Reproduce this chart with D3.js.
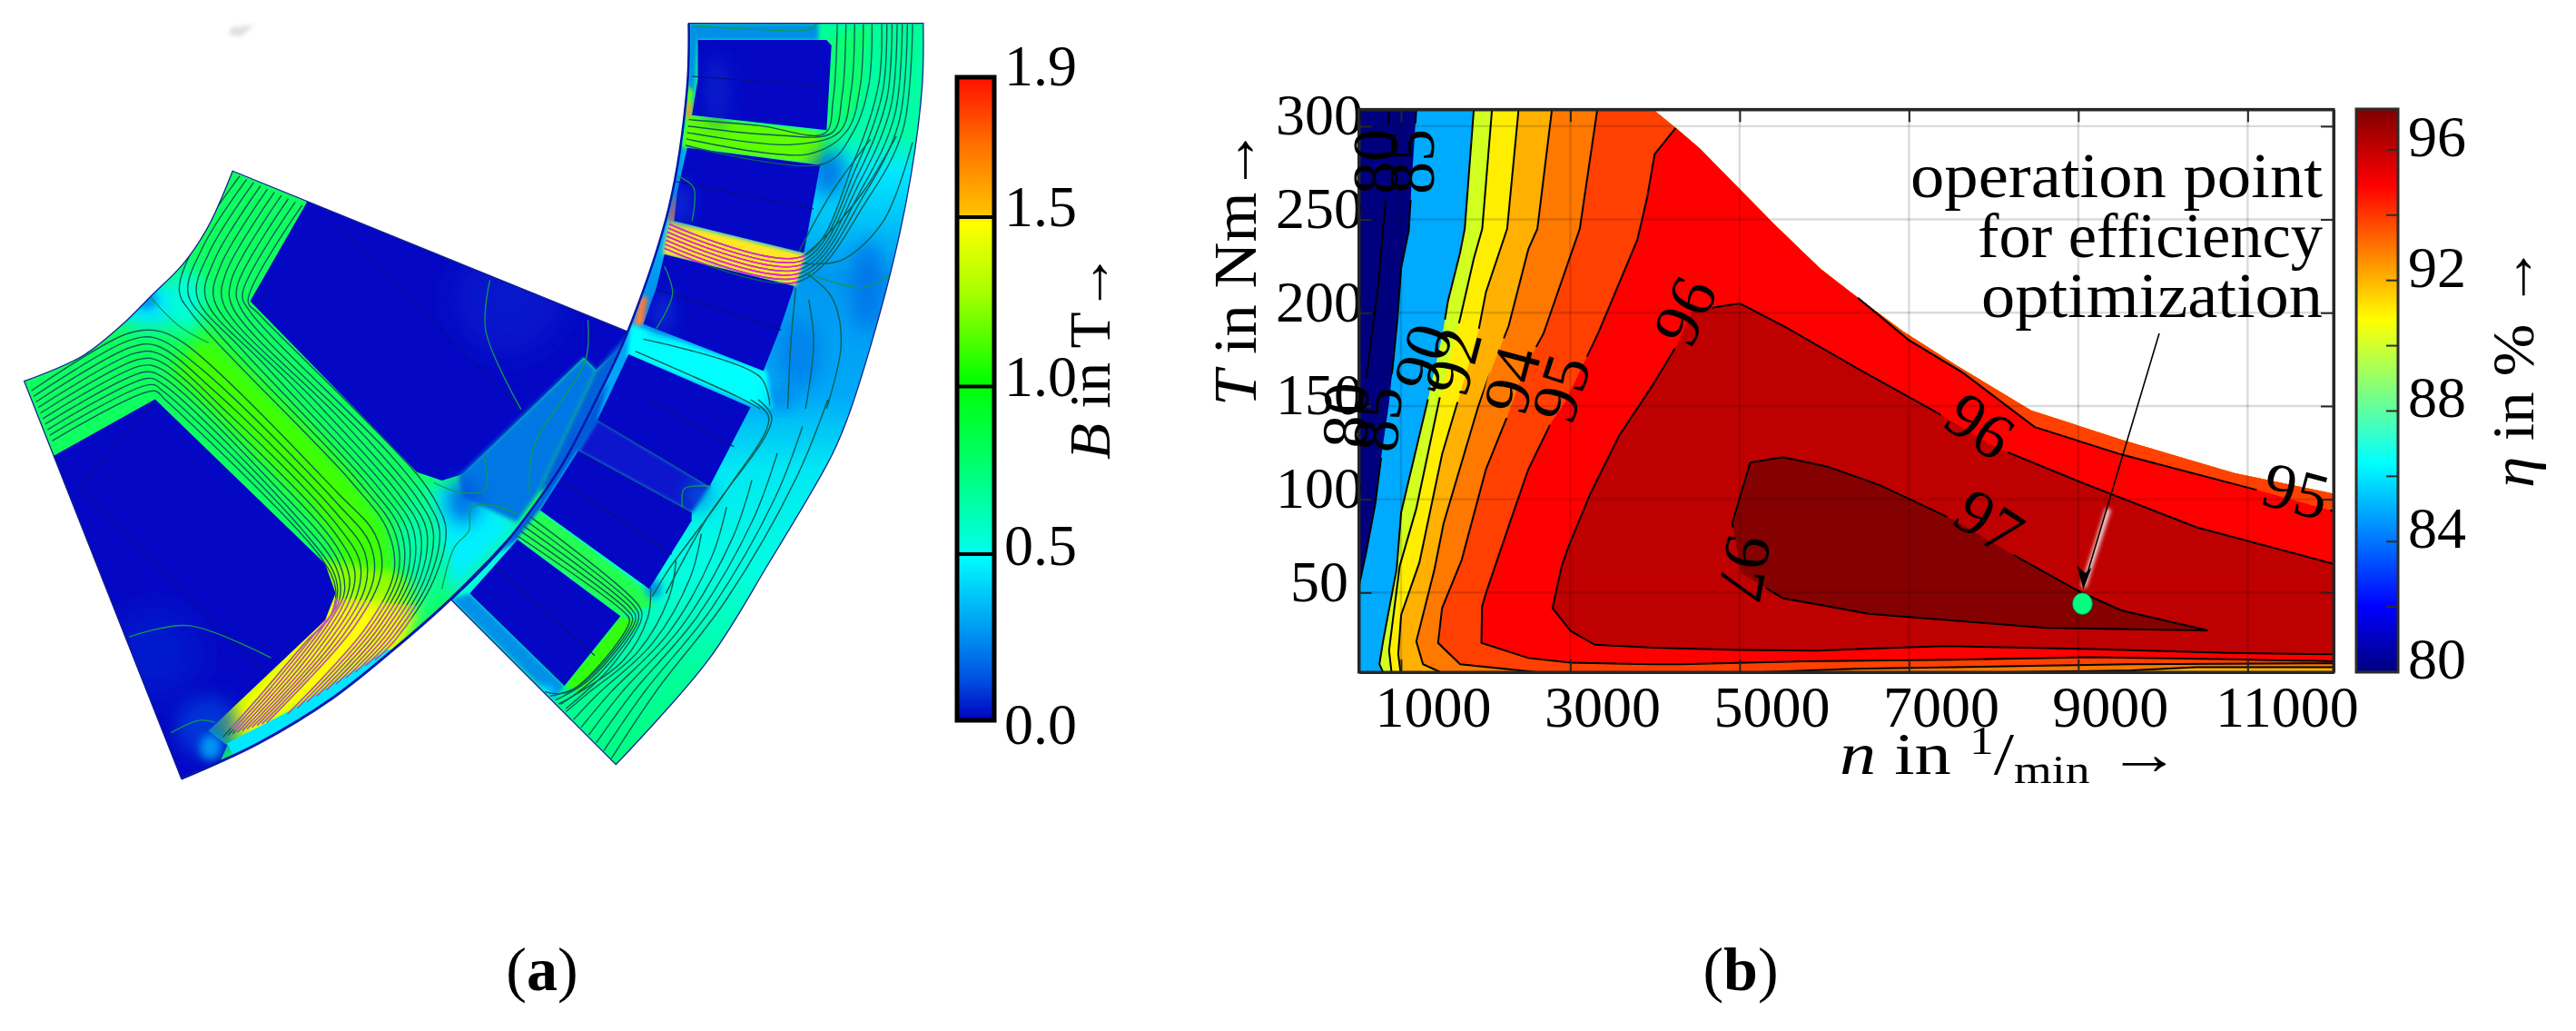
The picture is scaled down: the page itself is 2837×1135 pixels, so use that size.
<!DOCTYPE html>
<html><head><meta charset="utf-8">
<style>html,body{margin:0;padding:0;background:#fff}svg{display:block}
text{font-family:"Liberation Serif","DejaVu Serif",serif;fill:#000}</style>
<script src="https://cdn.jsdelivr.net/npm/d3@7"></script></head><body>
<script>
// ---------- panel (b) data: n in 1/min, T in Nm ----------
const xTicks=[1000,3000,5000,7000,9000,11000];
const yTicks=[50,100,150,200,250,300];
const etaTicks=[82,84,86,88,90,92,94,96];
const etaLabels=[80,84,88,92,96];
const domainEdge=[[3978,309],[4263,298.4],[4529,288],[4885,271.6],[5418,247],[5952,223.6],[6396,208],[6930,190],[7552,172],[8441,147.6],[9508,132],[10841,114],[12015,103]];
const c80=[[859,309],[823,263],[734,216],[555,151.5],[502,140]];
const c85=[[1181,309],[1117,263],[1092,244],[1002,224],[959,197],[859,151.5],[770,124],[698,98],[591,72],[509,54.5],[490,50]];
const c90=[[1860,309],[1753,245],[1699,232.4],[1556,206.5],[1485,187],[1300,150],[1002,93],[949,62.6],[788,23.8],[745,11.6],[788,7.3]];
const c91=[[2075,309],[1960,245],[1860,229],[1699,197],[1460,155],[1181,95],[984,64],[859,19],[888,7.3]];
const c92=[[2389,309],[2254,245],[2003,211],[1914,190],[1674,153],[1485,124],[1217,66],[1002,38],[967,17],[995,7.3]];
const c93=[[2783,309],[2611,245],[2504,234],[2271,192.8],[2039,166],[1914,150],[1503,87],[1396,62.6],[1181,23.8],[1260,11.6],[1467,7.3]];
const c94=[[3319,309],[3112,245],[2682,188.7],[2468,171],[2261,145],[2003,116],[1717,67.5],[1485,41.6],[1438,23],[1699,11.6],[2611,7.3]];
const c95=[[4245,299],[3996,285],[3907,261.6],[3791,239],[3326,188.7],[2933,151.5],[2772,141],[2504,116],[2343,95],[2003,49.6],[1957,42.4],[1950,23],[2504,14.9],[3004,12.4],[3970,11.6],[4295,11.6],[5752,13.2],[7533,14],[9152,15.3],[10609,14.3],[12015,13.2]];
const c95Upper=[[6396,208],[6990,185.6],[7641,167.7],[8485,138.7],[9508,124],[11108,105],[12015,93.6]];
const c96=[[5000,205],[5552,192],[6396,170],[7285,147.6],[8041,127.5],[9063,108.5],[10397,85],[12015,65.4],[12015,16.9],[10771,17.6],[9152,19.7],[7425,21.3],[5914,18.9],[4996,19.2],[3970,20.5],[3290,22],[3004,29.4],[2790,41.6],[2897,64],[2986,75.5],[3237,103],[3576,134],[3970,161],[4263,183],[4440,201],[5000,205]];
const c97=[[5125,119.7],[5507,122.6],[6041,117.5],[6663,107.4],[7552,88.4],[8263,69.4],[9019,50.4],[9508,40.4],[10530,29.7],[8619,31],[6530,38.6],[5507,47],[5018,60.5],[4912,87.3],[5125,119.7]];
const c94Bottom=[[5266,7.3],[6346,9.1],[7533,10],[8612,10.8],[9584,11.6],[12015,12.1]];
const c93Bottom=[[8180,7.3],[9638,8.3],[10393,10],[12015,10]];
const contourLabels=[["80",698,281,-90],["85",1127,281,-90],["80",344,145,-88],["85",720,143,-85],["90",1256,176,-72],["92",1610,174,-75],["94",2307,164,-75],["95",2886,159.5,-72],["96",4351,201,-65],["96",7841,139.5,35],["97",7949,88,33],["95",11570,104.6,15],["97",5065,63,100]];
const opPoint=[9049,44];
const bandColors={lo:"#00007f",c85:"#00aaff",c90:"#d0ff20",c91:"#ffee00",c92:"#ffb000",c93:"#ff7800",c94:"#ff4000",c95:"#ff0000",c96:"#bf0000",c97:"#850000"};
const annotation=["operation point","for efficiency","optimization"];
const etaStops=[[80,"#00007f"],[82,"#0000ff"],[86.4,"#00ffff"],[90.8,"#ffff00"],[94.9,"#ff0000"],[97.25,"#7f0000"]];
// ---------- panel (a) data ----------
const bTicks=["0.0","0.5","1.0","1.5","1.9"];
const bStops=[[0,"#0000c0"],[0.12,"#0050e0"],[0.25,"#0090f0"],[0.49,"#00ffff"],[0.5,"#00ffea"],[0.75,"#00ff70"],[1,"#00ff00"],[1.25,"#a0ff00"],[1.47,"#ffff00"],[1.5,"#ffc000"],[1.7,"#ff7000"],[1.9,"#ff1000"]];

// crop frames the field plot was digitised in
const S={a:[d3.scaleLinear([0,720],[0,720]),d3.scaleLinear([0,720],[180,900])],
 b:[d3.scaleLinear([0,560],[480,1040]),d3.scaleLinear([0,440],[10,450])],
 c:[d3.scaleLinear([0,440],[480,920]),d3.scaleLinear([0,440],[440,880])]};
const A=p=>p.map(q=>[S.a[0](q[0]/2.178),S.a[1](q[1]/2.178)]);
const B=p=>p.map(q=>[S.b[0](q[0]/2.8),S.b[1](q[1]/3)]);
const C=p=>p.map(q=>[S.c[0](q[0]/3),S.c[1](q[1]/3)]);

const rotorTop=[[558,18],[1510,405]];
const rotorGap=[[1510,405],[1430,610],[1340,760],[1240,880],[1080,1045],[950,1160],[800,1280],[620,1390],[435,1475]];
const rotorLeft=[[435,1475],[58,522]];
const rotorInner=[[58,522],[200,460],[300,380],[360,320],[440,240],[500,150],[558,18]];
const pocketUpper=[[735,95],[600,330],[1000,740],[1060,760],[1110,745],[1400,465],[1430,495],[1530,400],[1000,150],[735,30]];
const pocketLower=[[130,700],[372,565],[780,960],[805,1030],[780,1095],[500,1360],[545,1395],[500,1500],[300,1500],[0,800]];
const rotorWedge=[[1400,465],[1430,495],[1290,790],[1240,860],[1110,800],[1100,750]];
const rotorNeck=[[790,1040],[1000,1060],[960,1160],[600,1380],[530,1340]];
const rotorNeckWide=[[770,950],[1040,1000],[950,1170],[560,1390],[510,1350]];
const rotorCore=[[450,450],[800,800],[880,950],[850,1100]];
const rotorStrip=[[545,1390],[700,1310],[930,1165],[965,1170],[700,1350],[560,1420]];
const rotorBridge=[[1030,770],[1120,770],[1260,860],[1080,1045],[1060,950]];
const rotL=[[[75,545],[300,410],[370,400],[440,430],[810,790],[900,890],[915,980],[850,1110],[640,1340]],
            [[125,665],[370,545],[395,565],[770,945],[805,1020],[790,1090],[740,1140],[620,1280],[535,1375]]];
const rotT=[[[725,100],[595,330],[620,360],[1000,745],[1050,820],[1070,880],[1040,1000],[950,1140],[900,1190]],
            [[575,30],[475,180],[430,305],[460,360],[840,760],[930,880],[945,980],[880,1110],[690,1320]]];
const rotThin=[[[625,340],[815,150],[1250,590]],[[372,570],[190,775],[640,1225]]];
const rotGreen=[[[1175,280],[1165,400],[1250,590]],[[310,1135],[450,1108],[650,1185]],[[410,1365],[480,1335],[515,1340]],[[1410,375],[1405,470],[1280,680],[1270,790]],[[1240,840],[1185,820],[1130,825],[1125,880],[1090,920],[1060,1020]],[[1160,700],[1165,780],[1110,790],[1040,765]],[[360,320],[430,390],[500,430]]];
const statorTop=B([[780,47],[1503,47]]);
const statorOuter=[...B([[1503,47],[1500,250],[1465,550],[1400,880],[1280,1320]]),...C([[1310,180],[1100,540],[900,860],[595,1205]])];
const statorBottom=C([[595,1205],[50,660]]);
const statorBore=[...C([[50,660],[200,510],[340,330],[420,210],[530,0]]),...B([[590,1070],[720,650],[775,260],[780,47]])];
const slots=[B([[808,102],[1205,102],[1220,120],[1205,400],[790,350],[808,230]]),B([[775,458],[1185,515],[1135,805],[735,700],[745,600]]),B([[705,810],[1105,915],[1060,1060],[1010,1195],[640,1040],[680,920]]),C([[637,-150],[1040,25],[905,285],[535,65]]),C([[470,170],[845,375],[845,400],[705,625],[345,365]]),C([[270,462],[610,715],[425,945],[112,640]])];
const slotThin=[C([[195,550],[525,845]]),C([[415,270],[780,510]]),C([[700,0],[985,155]]),C([[535,65],[905,285]]),C([[470,170],[845,375]]),B([[680,925],[1065,1060]]),B([[740,570],[1165,660]]),B([[790,222],[1210,255]])];
const statorStops=[[0,"#00ff98"],[0.15,"#00ffa8"],[0.2,"#00e8ff"],[0.34,"#0098f0"],[0.5,"#00a8f8"],[0.6,"#00e8f4"],[0.74,"#00ffe0"],[0.88,"#00ff98"],[1,"#00ff80"]];
const statorFlux=[
 {a:B([[1238,50],[1225,300],[1200,410],[1000,385],[780,365]]),b:B([[1345,50],[1335,250],[1290,400],[1200,510],[770,450]]),n:5},
 {a:B([[1375,50],[1365,250],[1290,500],[1135,815],[720,710]]),b:B([[1470,50],[1440,400],[1330,630],[1120,900],[705,790]]),n:7},
 {a:C([[710,620],[700,720],[620,860],[460,975],[405,1005]]),b:C([[1295,0],[1190,260],[960,660],[730,960],[580,1185]]),n:8},
 {a:C([[270,450],[620,700],[640,730],[440,965],[360,965]]),b:C([[310,385],[670,680],[680,720],[580,880],[430,1020]]),n:5}];
const statorExtra=[B([[615,1130],[930,1280],[1000,1320]]),B([[640,1090],[1000,1215],[1030,1310]]),C([[1040,0],[1100,60],[960,300],[770,560],[715,650]]),C([[1065,0],[1110,60],[890,400],[760,640]]),B([[1110,920],[1095,1100],[1085,1320]]),B([[1150,960],[1165,1100],[1140,1320]]),B([[1140,870],[1220,950],[1250,1100],[1205,1320]]),B([[1130,840],[1250,830],[1380,700],[1470,440]]),B([[1130,820],[1220,730],[1320,600],[1420,420]]),B([[1120,800],[1180,680],[1230,590],[1340,430]])];
const statorGreen=[B([[790,55],[1000,68],[1150,68],[1175,48]]),B([[1405,875],[1315,920],[1140,870]]),B([[705,850],[730,940],[680,1055]]),B([[745,550],[795,590],[790,700]]),C([[905,285],[820,295],[815,355]])];

const svg=d3.select("body").append("svg").attr("width",2837).attr("height",1135);
const defs=svg.append("defs");
[[2,"b2"],[5,"b5"],[10,"b10"],[18,"b18"]].forEach(([s,id])=>defs.append("filter").attr("id",id).attr("x","-50%").attr("y","-50%").attr("width","200%").attr("height","200%").append("feGaussianBlur").attr("stdDeviation",s));
const poly=d3.line();
const smooth=d3.line().curve(d3.curveCatmullRom.alpha(.5));
const joined=(...segs)=>segs.map((q,i)=>{const d=smooth(q);return i?d.replace(/^M/,"L"):d;}).join("")+"Z";
function family(a,b,n){const r=[];for(let i=0;i<n;i++){const t=n>1?i/(n-1):0;r.push(a.map((p,k)=>[p[0]+(b[k][0]-p[0])*t,p[1]+(b[k][1]-p[1])*t]));}return r;}

// ========== panel (a) ==========
const fa=svg.append("g");
fa.append("path").attr("d",poly(B([[-630,60],[-560,52],[-600,90],[-640,85]])))
  .attr("fill","#ccc").attr("filter","url(#b2)").attr("opacity",.6);
const rotorPath=joined(A(rotorTop),A(rotorGap),A(rotorLeft),A(rotorInner));
defs.append("clipPath").attr("id","rotorClip").append("path").attr("d",rotorPath);
const r=fa.append("g").attr("clip-path","url(#rotorClip)");
r.append("path").attr("d",rotorPath).attr("fill","#10ff60");
const blob=(g,p,c,f,o=1)=>g.append("path").attr("d",poly(p)+"Z").attr("fill",c).attr("filter",f?`url(#${f})`:null).attr("opacity",o);
const spot=(g,x,y,rx,ry,c,f,o=1)=>g.append("ellipse").attr("cx",x).attr("cy",y).attr("rx",rx).attr("ry",ry).attr("fill",c).attr("filter",`url(#${f})`).attr("opacity",o);
r.append("path").attr("d",smooth(A(rotorCore))).attr("fill","none").attr("stroke","#40ff00").attr("stroke-width",60).attr("filter","url(#b10)");
blob(r,A(rotorNeckWide),"#90ff00","b5");
blob(r,A(rotorNeck),"#ffff00","b10");
blob(r,A(rotorBridge),"#00f0ff","b10");
blob(r,A([[1000,760],[1060,1000],[1000,1090],[960,900]]),"#00ffb0","b10");
spot(r,165,335,38,26,"#00e8ff","b10");spot(r,160,330,14,10,"#0090f0","b5");
spot(r,205,330,18,35,"#00ffe0","b10");
blob(r,A(pocketUpper),"#0408c4");
blob(r,A(pocketLower),"#0408c4");
spot(r,228,800,34,34,"#0048e0","b10",.7);
spot(r,232,823,12,14,"#00c0ff","b5",.7);
spot(r,170,720,50,50,"#0020d0","b18",.7);
spot(r,560,330,60,60,"#0a20d0","b18",.6);
blob(r,A(rotorWedge),"#0078e4","b2");
blob(r,A([[1430,495],[1510,405],[1430,610],[1340,760],[1290,790]]),"#0060dc","b2");
spot(r,510,552,18,24,"#0050e0","b10",.8);
blob(r,A(rotorStrip),"#00e8ff");
const rLines=[...family(rotL[0],rotL[1],10),...family(rotT[0],rotT[1],10)];
r.append("g").selectAll("path").data(rLines.map(A)).join("path").attr("d",smooth).attr("fill","none").attr("stroke","#0b5f58").attr("stroke-width",1.4);
defs.append("clipPath").attr("id","neckClip").append("path").attr("d",poly(A(rotorNeck))+"Z");
r.append("g").attr("clip-path","url(#neckClip)").selectAll("path").data(rLines.map(A)).join("path").attr("d",smooth).attr("fill","none").attr("stroke","#e050d0").attr("stroke-width",1.1);
r.append("g").selectAll("path").data(rotThin.map(A)).join("path").attr("d",poly).attr("fill","none").attr("stroke","#06107a").attr("stroke-width",1);
r.append("g").selectAll("path").data(rotGreen.map(A)).join("path").attr("d",smooth).attr("fill","none").attr("stroke","#109a50").attr("stroke-width",1.3);
fa.append("path").attr("d",rotorPath).attr("fill","none").attr("stroke","#14208c").attr("stroke-width",1.3);
fa.append("path").attr("d",smooth(A(rotorGap))).attr("fill","none").attr("stroke","#0818a8").attr("stroke-width",3);

// stator
const statorPath=joined(statorTop,statorOuter,statorBottom,statorBore);
const sg=defs.append("linearGradient").attr("id","statorGrad").attr("gradientUnits","userSpaceOnUse").attr("x1",0).attr("x2",0).attr("y1",26).attr("y2",842);
statorStops.forEach(s=>sg.append("stop").attr("offset",s[0]).attr("stop-color",s[1]));
defs.append("clipPath").attr("id","statorClip").append("path").attr("d",statorPath);
const s=fa.append("g").attr("clip-path","url(#statorClip)");
s.append("path").attr("d",statorPath).attr("fill","url(#statorGrad)");
blob(s,C([[50,660],[112,640],[425,945],[390,990]]),"#0090e8","b2");
blob(s,B([[780,47],[1180,47],[1180,102],[808,102],[790,350],[775,350]]),"#0090e8","b2");
blob(s,C([[200,510],[270,462],[345,365],[535,65],[570,-60],[530,0],[340,330]]),"#0058d8","b2");
blob(s,C([[535,65],[905,285],[845,375],[470,170]]),"#0818cc","b2");
blob(s,B([[740,440],[775,458],[740,700],[715,690]]),"#00a0f0","b2");
blob(s,B([[775,350],[1215,410],[1185,515],[760,455]]),"#60ff00","b2");
blob(s,B([[1205,100],[1340,50],[1310,300],[1200,510],[1190,420]]),"#10ff70","b5");
blob(s,B([[720,700],[1140,810],[1110,915],[700,810]]),"#ffe820","b2");
blob(s,B([[770,250],[795,270],[790,350],[770,350]]),"#60ff20","b2");
blob(s,B([[775,310],[790,310],[785,360],[772,360]]),"#ff9040","b2");
blob(s,B([[735,620],[745,620],[735,700],[715,700]]),"#ff7040","b2");
blob(s,B([[630,950],[655,950],[640,1040],[610,1050]]),"#ff8040","b2");
blob(s,B([[600,1040],[1020,1195],[1040,1320],[960,1300],[590,1145]]),"#00ffff","b2");
blob(s,C([[345,365],[690,625],[720,680],[610,715],[270,462]]),"#20ff50","b2");
blob(s,C([[610,715],[670,730],[480,970],[425,945]]),"#30ff10","b2");
spot(s,912,190,20,26,"#0060e0","b10",.8);spot(s,955,315,18,50,"#0070e8","b10",.8);
spot(s,770,545,14,16,"#0070e8","b10",.7);
spot(s,880,390,24,40,"#0078e8","b10",.7);spot(s,860,440,14,10,"#0060e0","b10",.6);
spot(s,720,648,8,10,"#0080e8","b5");spot(s,600,765,10,10,"#00e8ff","b5");
s.append("g").selectAll("path").data(slots).join("path").attr("d",d=>poly(d)+"Z").attr("fill","#0408c4");
spot(s,790,100,14,40,"#0a30d0","b10",.5);spot(s,750,225,12,24,"#0a40e0","b10",.6);spot(s,730,345,12,24,"#0a40e0","b10",.6);
const sLines=statorFlux.flatMap(f=>family(f.a,f.b,f.n));
s.append("g").selectAll("path").data([...sLines,...statorExtra]).join("path").attr("d",smooth).attr("fill","none").attr("stroke","#0b5f58").attr("stroke-width",1.4);
defs.append("clipPath").attr("id","tooth2Clip").append("path").attr("d",poly(B([[720,700],[1140,810],[1110,915],[700,810]]))+"Z");
s.append("g").attr("clip-path","url(#tooth2Clip)").selectAll("path").data(sLines).join("path").attr("d",smooth).attr("fill","none").attr("stroke","#f020e0").attr("stroke-width",1.6);
s.append("g").selectAll("path").data(slotThin).join("path").attr("d",poly).attr("fill","none").attr("stroke","#06107a").attr("stroke-width",1.1);
s.append("g").selectAll("path").data(statorGreen).join("path").attr("d",smooth).attr("fill","none").attr("stroke","#109a50").attr("stroke-width",1.3);
fa.append("path").attr("d",statorPath).attr("fill","none").attr("stroke","#14208c").attr("stroke-width",1.3);
fa.append("path").attr("d",smooth(statorBore)).attr("fill","none").attr("stroke","#0818a8").attr("stroke-width",2.5);

// B colour bar
const bLevelY=[610,425.5,239];
const bg=defs.append("linearGradient").attr("id","bGrad").attr("x1",0).attr("x2",0).attr("y1",1).attr("y2",0);
bStops.forEach(st=>bg.append("stop").attr("offset",st[0]/1.9).attr("stop-color",st[1]));
svg.append("rect").attr("x",1054).attr("y",85).attr("width",41).attr("height",708).attr("fill","url(#bGrad)").attr("stroke","#000").attr("stroke-width",5);
svg.selectAll(".bsep").data(bLevelY).join("line").attr("class","bsep").attr("x1",1054).attr("x2",1095).attr("y1",d=>d).attr("y2",d=>d).attr("stroke","#000").attr("stroke-width",4);
const bLabelY=[819,622,436,249,94];
svg.selectAll(".bl").data(bTicks).join("text").attr("class","bl").attr("x",1106).attr("y",(d,i)=>bLabelY[i]).attr("font-size",64).text(d=>d);
const bTitle=svg.append("text").attr("transform","translate(1222,506) rotate(-90)").attr("font-size",64).attr("textLength",228).attr("lengthAdjust","spacingAndGlyphs");
bTitle.append("tspan").attr("font-style","italic").text("B");bTitle.append("tspan").text(" in T");bTitle.append("tspan").text("→");

// ========== panel (b) ==========
const L=1496.5,R=2570,Tp=120.4,Bt=740;
const x=d3.scaleLinear([502,12015],[L,R]);
const y=d3.scaleLinear([7.3,309],[Bt,Tp]);
const ln=d3.line().x(d=>x(d[0])).y(d=>y(d[1]));
defs.append("clipPath").attr("id","frame").append("rect").attr("x",L).attr("y",Tp).attr("width",R-L).attr("height",Bt-Tp);
defs.append("clipPath").attr("id","dom").append("path").attr("d",ln([[502,7.3],[502,309],...domainEdge,[12015,7.3]])+"Z");
const topT=320,far=12400,low=0;
const region=(c)=>[...c,[far,low],[far,topT],[c[0][0],topT]];
const pg=svg.append("g").attr("clip-path","url(#dom)");
pg.append("rect").attr("x",L).attr("y",Tp).attr("width",R-L).attr("height",Bt-Tp).attr("fill",bandColors.lo);
pg.append("path").attr("d",ln(region([...c85,[300,50],[300,low]]))+"Z").attr("fill",bandColors.c85);
[[c90,"c90"],[c91,"c91"],[c92,"c92"],[c93,"c93"],[c94,"c94"]].forEach(([c,k])=>pg.append("path").attr("d",ln(region(c))+"Z").attr("fill",bandColors[k]));
pg.append("path").attr("d",ln([...c94Bottom,[far,12.1],[far,low],[5266,low]])+"Z").attr("fill",bandColors.c93);
pg.append("path").attr("d",ln([...c93Bottom,[far,10],[far,low],[8180,low]])+"Z").attr("fill",bandColors.c92);
pg.append("path").attr("d",ln([...c95,[far,13.2],[far,93.6],...c95Upper.slice().reverse(),[6000,topT],[4200,topT]])+"Z").attr("fill",bandColors.c95);
pg.append("path").attr("d",ln(c96)+"Z").attr("fill",bandColors.c96);
pg.append("path").attr("d",ln(c97)+"Z").attr("fill",bandColors.c97);
// contour label gaps
const maskEl=defs.append("mask").attr("id","gaps").attr("maskUnits","userSpaceOnUse").attr("x",1400).attr("y",80).attr("width",1250).attr("height",700);
maskEl.append("rect").attr("x",1400).attr("y",80).attr("width",1250).attr("height",700).attr("fill","#fff");
maskEl.selectAll(".g").data(contourLabels).join("rect").attr("class","g").attr("x",-42).attr("y",-26).attr("width",84).attr("height",52).attr("fill","#000")
  .attr("transform",d=>`translate(${x(d[1])},${y(d[2])}) rotate(${d[3]})`);
svg.append("g").attr("clip-path","url(#frame)").append("g").attr("mask","url(#gaps)")
  .selectAll("path").data([c80,c85,c90,c91,c92,c93,c94,c95,c95Upper,c96,c97,c94Bottom,c93Bottom]).join("path")
  .attr("d",ln).attr("fill","none").attr("stroke","#000").attr("stroke-width",2);
// grid
const grid=svg.append("g").attr("stroke","rgba(0,0,0,0.14)").attr("stroke-width",2.4);
grid.selectAll(".v").data(xTicks).join("line").attr("class","v").attr("x1",d=>x(d)).attr("x2",d=>x(d)).attr("y1",Tp).attr("y2",Bt);
grid.selectAll(".h").data(yTicks).join("line").attr("class","h").attr("y1",d=>y(d)).attr("y2",d=>y(d)).attr("x1",L).attr("x2",R);
// axes
const axStyle=g=>{g.attr("font-family",null).attr("font-size",64);g.selectAll("path.domain").attr("stroke","#262626").attr("stroke-width",3);g.selectAll(".tick line").attr("stroke","#262626").attr("stroke-width",2);};
const gB=svg.append("g").attr("transform",`translate(0,${Bt})`).call(d3.axisBottom(x).tickValues(xTicks).tickSize(-14).tickSizeOuter(0).tickFormat(d=>d)).call(axStyle);
gB.selectAll("text").attr("y",60).attr("dy",null).attr("text-anchor","middle").attr("x",d=>d===11000?43:35);
const gT=svg.append("g").attr("transform",`translate(0,${Tp})`).call(d3.axisTop(x).tickValues(xTicks).tickSize(-14).tickSizeOuter(0).tickFormat("")).call(axStyle);
const gL=svg.append("g").attr("transform",`translate(${L},0)`).call(d3.axisLeft(y).tickValues(yTicks).tickSize(-14).tickSizeOuter(0)).call(axStyle);
gL.selectAll("text").attr("x",1453-L).attr("dy",null).attr("y",9).attr("text-anchor","middle");
const gR=svg.append("g").attr("transform",`translate(${R},0)`).call(d3.axisRight(y).tickValues(yTicks).tickSize(-14).tickSizeOuter(0).tickFormat("")).call(axStyle);
svg.append("rect").attr("x",L).attr("y",Tp).attr("width",R-L).attr("height",Bt-Tp).attr("fill","none").attr("stroke","#262626").attr("stroke-width",3);
// contour labels
svg.append("g").selectAll("text").data(contourLabels).join("text").attr("font-size",72).attr("text-anchor","middle").attr("dy",".34em")
  .attr("transform",d=>`translate(${x(d[1])},${y(d[2])}) rotate(${d[3]})`).text(d=>d[0]);
// annotation
svg.append("g").selectAll("text").data(annotation).join("text").attr("x",2558).attr("y",(d,i)=>[217,283,348.6][i]).attr("text-anchor","end").attr("font-size",70)
  .attr("textLength",(d,i)=>[454,380,376][i]).attr("lengthAdjust","spacingAndGlyphs").text(d=>d);
// arrow + point
const ptX=x(opPoint[0]),ptY=y(opPoint[1]);
svg.append("line").attr("x1",2322).attr("y1",560).attr("x2",ptX+1).attr("y2",ptY-18).attr("stroke","#fff").attr("stroke-width",6).attr("filter","url(#b2)").attr("opacity",.85);
svg.append("line").attr("x1",2378).attr("y1",367).attr("x2",ptX+2).attr("y2",ptY-22).attr("stroke","#000").attr("stroke-width",1.6);
svg.append("path").attr("d",d3.line()([[ptX+1,ptY-16],[ptX-6,ptY-42],[ptX+3,ptY-34],[ptX+10,ptY-40]])+"Z").attr("fill","#000");
svg.append("ellipse").attr("cx",ptX).attr("cy",ptY).attr("rx",11).attr("ry",12).attr("fill","#00ff7f").attr("stroke","#065").attr("stroke-width",.8);
// axis titles
const tT=svg.append("text").attr("transform","translate(1383,447) rotate(-90)").attr("font-size",68).attr("textLength",306).attr("lengthAdjust","spacingAndGlyphs");
tT.append("tspan").attr("font-style","italic").text("T");tT.append("tspan").text(" in Nm");tT.append("tspan").text("→");
const nT=svg.append("text").attr("x",2026).attr("y",852).attr("font-size",66).attr("textLength",376).attr("lengthAdjust","spacingAndGlyphs");
nT.append("tspan").attr("font-style","italic").text("n");nT.append("tspan").text(" in ");
nT.append("tspan").attr("font-size",44).attr("dy",-22).text("1");nT.append("tspan").attr("dy",22).text("/");
nT.append("tspan").attr("font-size",44).attr("dy",10).text("min");nT.append("tspan").attr("dy",-10).text(" →");
// eta bar
const ey=d3.scaleLinear([80,97.25],[740,120]);
const eg=defs.append("linearGradient").attr("id","etaGrad").attr("x1",0).attr("x2",0).attr("y1",1).attr("y2",0);
etaStops.forEach(st=>eg.append("stop").attr("offset",(st[0]-80)/17.25).attr("stop-color",st[1]));
svg.append("rect").attr("x",2595).attr("y",120).attr("width",46).attr("height",620).attr("fill","url(#etaGrad)").attr("stroke","#2c2c2c").attr("stroke-width",3);
svg.selectAll(".et").data(etaTicks).join("line").attr("class","et").attr("x1",2628).attr("x2",2641).attr("y1",d=>ey(d)).attr("y2",d=>ey(d)).attr("stroke","#2c2c2c").attr("stroke-width",2);
svg.selectAll(".el").data(etaLabels).join("text").attr("class","el").attr("x",2652).attr("y",d=>ey(d)+7).attr("font-size",64).text(d=>d);
const eT=svg.append("text").attr("transform","translate(2790,537) rotate(-90)").attr("font-size",66).attr("textLength",267).attr("lengthAdjust","spacingAndGlyphs");
eT.append("tspan").attr("font-style","italic").text("η");eT.append("tspan").text(" in % →");
// captions
[["a",597],["b",1917]].forEach(([t,cx])=>{const c=svg.append("text").attr("x",cx).attr("y",1090).attr("text-anchor","middle").attr("font-size",68);
 c.append("tspan").text("(");c.append("tspan").attr("font-weight","bold").text(t);c.append("tspan").text(")");});
</script></body></html>
